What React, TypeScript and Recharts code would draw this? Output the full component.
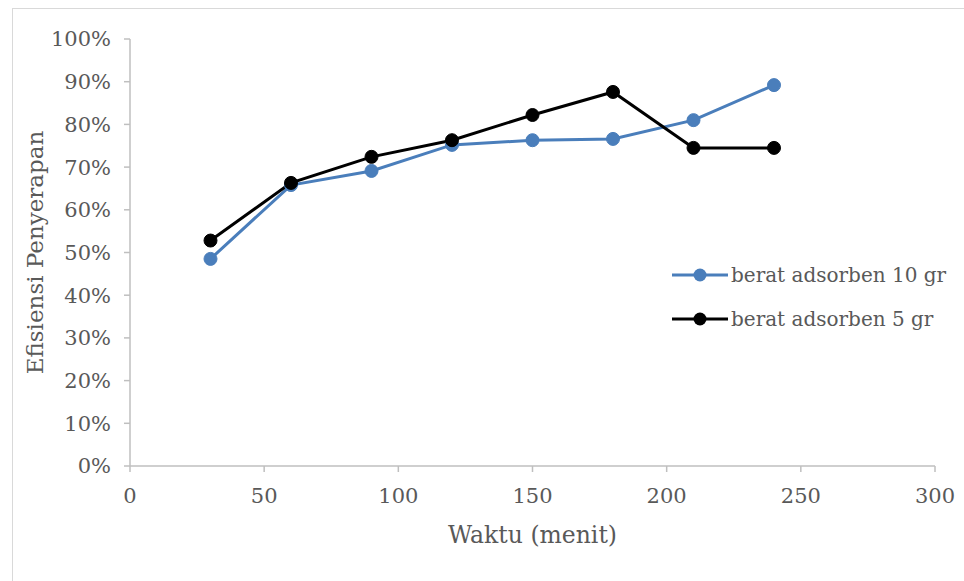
import { LineChart, Line, XAxis, YAxis } from "recharts";

const waktu = [30, 60, 90, 120, 150, 180, 210, 240];
const adsorben10 = [0.485, 0.658, 0.691, 0.752, 0.763, 0.766, 0.81, 0.892];
const adsorben5 = [0.528, 0.663, 0.724, 0.763, 0.822, 0.876, 0.745, 0.745];
const xTicks = [0, 50, 100, 150, 200, 250, 300];
const yTicks = [0, 0.1, 0.2, 0.3, 0.4, 0.5, 0.6, 0.7, 0.8, 0.9, 1];

const data = waktu.map((t, i) => ({ t, a10: adsorben10[i], a5: adsorben5[i] }));

const FONT = "'DejaVu Serif', serif";
const TXT = "#595959";
const AXIS = "#BFBFBF";

const series = [
  { key: "a10", name: "berat adsorben 10 gr", color: "#4A7EBB" },
  { key: "a5", name: "berat adsorben 5 gr", color: "#000000" },
];

// legend drawn as plain html so it doesn't take room from the plot
function LegendBox() {
  return (
    <div style={{ position: "absolute", left: 670, top: 253, fontFamily: FONT, fontSize: 20, color: TXT }}>
      {series.map((s) => (
        <div key={s.key} style={{ display: "flex", alignItems: "center", height: 44 }}>
          <svg width={61} height={16}>
            <line x1={2} y1={8} x2={58} y2={8} stroke={s.color} strokeWidth={3} />
            <circle cx={30} cy={8} r={6.5} fill={s.color} />
          </svg>
          <span>{s.name}</span>
        </div>
      ))}
    </div>
  );
}

export default function App() {
  return (
    <div style={{ position: "absolute", left: 0, top: 0, width: 964, height: 581, background: "#fff", overflow: "hidden" }}>
      <div style={{ position: "absolute", left: 12, top: 8, width: 1000, height: 700, border: "1.5px solid #D9D9D9" }} />
      <div style={{ position: "absolute", left: 0, top: 0 }}>
        <LineChart width={964} height={581} data={data} margin={{ top: 39, right: 29, bottom: 0, left: 0 }}>
          <XAxis
            dataKey="t"
            type="number"
            domain={[0, 300]}
            ticks={xTicks}
            stroke={AXIS}
            strokeWidth={1.5}
            tickSize={6}
            tick={{ fill: TXT, fontSize: 21, fontFamily: FONT }}
            tickMargin={16}
            height={115}
            label={{ value: "Waktu (menit)", position: "insideTop", offset: 60, fill: TXT, fontSize: 23.5, fontFamily: FONT }}
          />
          <YAxis
            type="number"
            domain={[0, 1]}
            ticks={yTicks}
            stroke={AXIS}
            strokeWidth={1.5}
            tickSize={6}
            width={130}
            tick={{ fill: TXT, fontSize: 21, fontFamily: FONT }}
            tickFormatter={(v: number) => `${Math.round(v * 100)}%`}
            tickMargin={13}
            label={{ value: "Efisiensi Penyerapan", angle: -90, position: "insideLeft", offset: 35, style: { textAnchor: "middle" }, fill: TXT, fontSize: 23, fontFamily: FONT }}
          />
          {series.map((s) => (
            <Line
              key={s.key}
              dataKey={s.key}
              name={s.name}
              type="linear"
              stroke={s.color}
              strokeWidth={3}
              dot={{ r: 6.5, fill: s.color, stroke: s.color, strokeWidth: 1 }}
              activeDot={false}
              isAnimationActive={false}
            />
          ))}
        </LineChart>
      </div>
      <LegendBox />
    </div>
  );
}
